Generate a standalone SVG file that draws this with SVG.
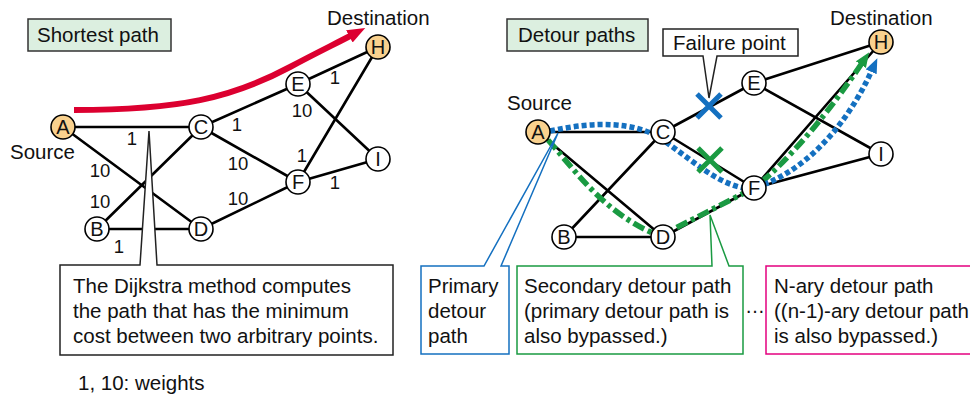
<svg xmlns="http://www.w3.org/2000/svg" width="970" height="397" viewBox="0 0 970 397">
<style>
text{font-family:"Liberation Sans",Arial,Helvetica,sans-serif;fill:#111}
.t{font-size:20.5px}
.nl{font-size:20px;text-anchor:middle}
.w{font-size:18.5px;text-anchor:middle}
.edge{stroke:#000;stroke-width:2.6;fill:none;stroke-linecap:round}
.node circle{fill:#fff;stroke:#000;stroke-width:1.6}
.node.end circle{fill:#f9d18e}
.tag{fill:#dcefe0;stroke:#333;stroke-width:1.5}
.callout{fill:#fff;stroke:#222;stroke-width:1.5}
</style>
<defs>
<marker id="redHead" markerUnits="userSpaceOnUse" markerWidth="20" markerHeight="18" viewBox="0 0 20 18" refX="3" refY="8" orient="auto">
<path d="M0,1 L18,8 L0,15 z" fill="#dc0030"/>
</marker>
<marker id="blueHead" markerUnits="userSpaceOnUse" markerWidth="16" markerHeight="14" viewBox="0 0 16 14" refX="2" refY="6" orient="auto">
<path d="M0,0 L15,6 L0,12 z" fill="#1470c0"/>
</marker>
<marker id="greenHead" markerUnits="userSpaceOnUse" markerWidth="16" markerHeight="14" viewBox="0 0 16 14" refX="2" refY="6" orient="auto">
<path d="M0,0 L15,6 L0,12 z" fill="#1a9a42"/>
</marker>
</defs>

<!-- ===== Left: Shortest path ===== -->
<g id="tag-shortest">
<rect class="tag" x="28" y="19" width="143" height="32"/>
<text class="t" x="37" y="42">Shortest path</text>
</g>

<g id="left-connectors">
<line class="edge" x1="63" y1="127" x2="201" y2="127"/>
<line class="edge" x1="63" y1="127" x2="201" y2="229"/>
<line class="edge" x1="97" y1="229" x2="201" y2="127"/>
<line class="edge" x1="97" y1="229" x2="201" y2="229"/>
<line class="edge" x1="201" y1="127" x2="298" y2="84"/>
<line class="edge" x1="201" y1="127" x2="298" y2="182"/>
<line class="edge" x1="201" y1="229" x2="298" y2="182"/>
<line class="edge" x1="298" y1="84" x2="378" y2="47"/>
<line class="edge" x1="298" y1="84" x2="378" y2="159"/>
<line class="edge" x1="298" y1="182" x2="378" y2="47"/>
<line class="edge" x1="298" y1="182" x2="378" y2="159"/>
<path d="M74,110 C180,110 232,98 290,67 C318,52 335,44 352,35" fill="none" stroke="#dc0030" stroke-width="6" marker-end="url(#redHead)"/>
</g>

<g id="left-weights">
<text class="w" x="132" y="145">1</text>
<text class="w" x="100" y="177">10</text>
<text class="w" x="100" y="208">10</text>
<text class="w" x="119" y="253">1</text>
<text class="w" x="237" y="131">1</text>
<text class="w" x="238" y="170">10</text>
<text class="w" x="238" y="205">10</text>
<text class="w" x="302" y="117">10</text>
<text class="w" x="335" y="84">1</text>
<text class="w" x="302" y="162">1</text>
<text class="w" x="335" y="189">1</text>
</g>

<g id="L-A" class="node end"><circle cx="63" cy="127" r="12"/><text class="nl" x="63" y="134">A</text></g>
<g id="L-B" class="node"><circle cx="97" cy="229" r="12"/><text class="nl" x="97" y="236">B</text></g>
<g id="L-C" class="node"><circle cx="201" cy="127" r="12"/><text class="nl" x="201" y="134">C</text></g>
<g id="L-D" class="node"><circle cx="201" cy="229" r="12"/><text class="nl" x="201" y="236">D</text></g>
<g id="L-E" class="node"><circle cx="298" cy="84" r="12"/><text class="nl" x="298" y="91">E</text></g>
<g id="L-F" class="node"><circle cx="298" cy="182" r="12"/><text class="nl" x="298" y="189">F</text></g>
<g id="L-H" class="node end"><circle cx="378" cy="47" r="12"/><text class="nl" x="378" y="54">H</text></g>
<g id="L-I" class="node"><circle cx="378" cy="159" r="12"/><text class="nl" x="378" y="166">I</text></g>

<text class="t" x="10" y="159">Source</text>
<text class="t" x="327" y="25">Destination</text>

<g id="callout-dijkstra">
<path class="callout" d="M60,265 H140 L149,131 L157,265 H393 V355 H60 Z"/>
<text class="t" x="73" y="293">The Dijkstra method computes</text>
<text class="t" x="73" y="318">the path that has the minimum</text>
<text class="t" x="73" y="343">cost between two arbitrary points.</text>
</g>

<text class="t" x="78" y="390">1, 10: weights</text>

<!-- ===== Right: Detour paths ===== -->
<g id="tag-detour">
<rect class="tag" x="507" y="19" width="141" height="32"/>
<text class="t" x="518" y="42">Detour paths</text>
</g>

<g id="right-connectors">
<line class="edge" x1="538" y1="132" x2="663" y2="132"/>
<line class="edge" x1="538" y1="132" x2="663" y2="237"/>
<line class="edge" x1="564" y1="237" x2="663" y2="132"/>
<line class="edge" x1="564" y1="237" x2="663" y2="237"/>
<line class="edge" x1="663" y1="132" x2="754" y2="83"/>
<line class="edge" x1="663" y1="132" x2="754" y2="188"/>
<line class="edge" x1="663" y1="237" x2="754" y2="188"/>
<line class="edge" x1="754" y1="83" x2="881" y2="42"/>
<line class="edge" x1="754" y1="83" x2="881" y2="154"/>
<line class="edge" x1="754" y1="188" x2="881" y2="42"/>
<line class="edge" x1="754" y1="188" x2="881" y2="154"/>
<path id="secondary-path" d="M548,140 C575,170 605,215 660,236 L754,188 C790,160 832,108 862,63" fill="none" stroke="#1a9a42" stroke-width="5.5" stroke-dasharray="12 4 4 4" marker-end="url(#greenHead)"/>
<path id="primary-path" d="M550,131 C595,121 635,122 660,138 C690,158 718,186 750,189 C800,176 845,130 872,70" fill="none" stroke="#1470c0" stroke-width="5.5" stroke-dasharray="5 3" marker-end="url(#blueHead)"/>
</g>

<g id="R-A" class="node end"><circle cx="538" cy="132" r="12"/><text class="nl" x="538" y="139">A</text></g>
<g id="R-B" class="node"><circle cx="564" cy="237" r="12"/><text class="nl" x="564" y="244">B</text></g>
<g id="R-C" class="node"><circle cx="663" cy="132" r="12"/><text class="nl" x="663" y="139">C</text></g>
<g id="R-D" class="node"><circle cx="663" cy="237" r="12"/><text class="nl" x="663" y="244">D</text></g>
<g id="R-E" class="node"><circle cx="754" cy="83" r="12"/><text class="nl" x="754" y="90">E</text></g>
<g id="R-F" class="node"><circle cx="754" cy="188" r="12"/><text class="nl" x="754" y="195">F</text></g>
<g id="R-H" class="node end"><circle cx="881" cy="42" r="12"/><text class="nl" x="881" y="49">H</text></g>
<g id="R-I" class="node"><circle cx="881" cy="154" r="12"/><text class="nl" x="881" y="161">I</text></g>

<g id="failure-marks">
<path d="M697,94 L721,118 M721,94 L697,118" stroke="#1470c0" stroke-width="5"/>
<path d="M698,148 L722,172 M722,148 L698,172" stroke="#1a9a42" stroke-width="5"/>
</g>

<text class="t" x="507" y="110">Source</text>
<text class="t" x="830" y="25">Destination</text>

<g id="callout-failure">
<path class="callout" d="M663,29 H798 V56 H717 L709,98 L703,56 H663 Z"/>
<text class="t" x="673" y="50">Failure point</text>
</g>

<g id="callout-primary">
<path d="M421,266 H484 L558,133 L501,266 H509 V354 H421 Z" fill="#fff" stroke="#1470c0" stroke-width="1.5"/>
<text class="t" x="428" y="293">Primary</text>
<text class="t" x="428" y="318">detour</text>
<text class="t" x="428" y="343">path</text>
</g>

<g id="callout-secondary">
<path d="M517,266 H712 L710,215 L729,266 H743 V354 H517 Z" fill="#fff" stroke="#1a9a42" stroke-width="1.5"/>
<text class="t" x="524" y="293">Secondary detour path</text>
<text class="t" x="524" y="318">(primary detour path is</text>
<text class="t" x="524" y="343">also bypassed.)</text>
</g>

<text x="755" y="313" font-family="'Noto Sans CJK JP',sans-serif" font-size="20" text-anchor="middle">…</text>

<g id="callout-nary">
<rect x="766" y="266" width="230" height="88" fill="#fff" stroke="#e4007f" stroke-width="1.5"/>
<text class="t" x="774" y="293">N-ary detour path</text>
<text class="t" x="774" y="318">((n-1)-ary detour path</text>
<text class="t" x="774" y="343">is also bypassed.)</text>
</g>
</svg>
